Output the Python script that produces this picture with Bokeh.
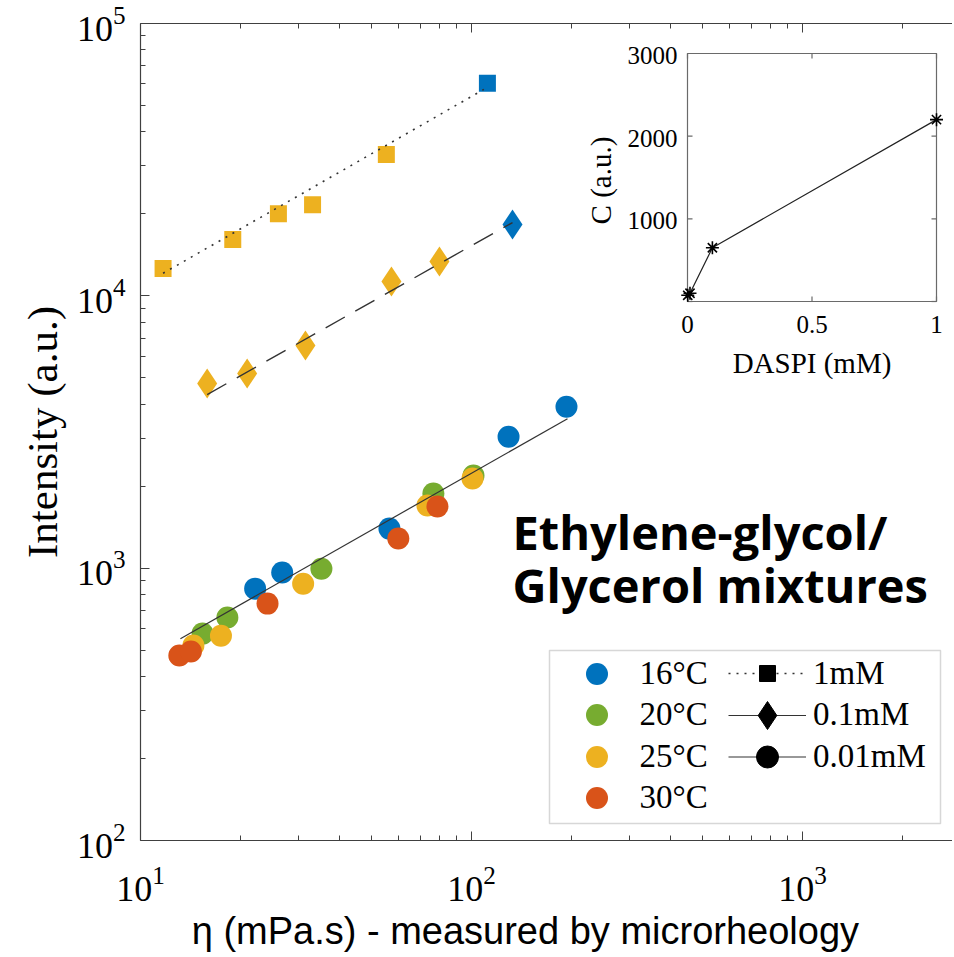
import math
from bokeh.plotting import figure
from bokeh.models import (Range1d, LinearScale, LogScale, LogAxis, FixedTicker, Legend, LegendItem,
                          BoxAnnotation, Label)
from bokeh.core.properties import value
from bokeh.embed import file_html
from bokeh.resources import INLINE

# ---------------- data ----------------
# 1 mM (squares)
sq25_x = [11.7, 19.0, 26.1, 33.1, 55.3]
sq25_y = [12600, 16100, 20000, 21600, 33000]
sq16_x = [111.7]
sq16_y = [60300]
fit_1mM_x = [11.7, 109.0]
fit_1mM_y = [12100, 57300]

# 0.1 mM (diamonds)
dia25_x = [15.9, 21.0, 31.5, 57.3, 80.0]
dia25_y = [4770, 5190, 6570, 11290, 13370]
dia16_x = [133.0]
dia16_y = [18270]
fit_01mM_x = [15.9, 133.0]
fit_01mM_y = [4340, 18580]

# 0.01 mM (circles), by temperature
c16_x = [22.2, 26.8, 56.5, 129.4, 193.6]
c16_y = [841, 964, 1397, 3039, 3917]
c20_x = [15.4, 18.3, 35.2, 76.7, 101.4]
c20_y = [575, 659, 995, 1879, 2188]
c25_x = [14.45, 17.5, 31.0, 73.6, 100.7]
c25_y = [520, 565, 877, 1698, 2134]
c30_x = [13.1, 14.2, 24.2, 60.1, 78.9]
c30_y = [478, 494, 741, 1285, 1683]
fit_001mM_x = [13.2, 195.0]
fit_001mM_y = [551, 3540]

temps = ["16°C", "20°C", "25°C", "30°C"]
temp_colors = ["#0072BD", "#77AC30", "#EDB120", "#D95319"]
concs = ["1mM", "0.1mM", "0.01mM"]

# inset: C vs DASPI concentration
inset_x = [0.001, 0.01, 0.1, 1.0]
inset_c = [75, 100, 650, 2200]
inset_xlim = [0.0, 1.0]
inset_ylim = [0.0, 3000.0]
inset_xticks = [0.0, 0.5, 1.0]
inset_xlabels = ["0", "0.5", "1"]
inset_yticks = [0.0, 1000.0, 2000.0, 3000.0]
inset_ylabel_ticks = [1000.0, 2000.0, 3000.0]
inset_ylabels = ["1000", "2000", "3000"]

x_major = [10, 100, 1000]
y_major = [100, 1000, 10000, 100000]

# ---------------- layout constants (page pixels; page margin is 0) ----------------
W, H = 952, 954
FL, FR, FT, FB = 140, 952, 23, 840      # main frame
DEC_X = 331.0
IL, IR, IT, IB = 687, 936, 53, 301      # inset frame

x_end = 10 ** (1 + (FR - FL) / DEC_X)

p = figure(width=W, height=H, x_axis_type=None, y_axis_type="log",
           x_range=Range1d(10, x_end), y_range=Range1d(100, 1e5),
           output_backend="svg", toolbar_location=None,
           min_border_left=FL, min_border_right=W - FR,
           min_border_top=FT, min_border_bottom=H - FB)
p.x_scale = LogScale()
p.outline_line_color = None
p.grid.visible = False
p.background_fill_color = "white"
p.border_fill_color = "white"

AX_COL = "#404040"
x_minor = [m * d for d in [10, 100, 1000] for m in range(2, 10)]
y_minor = [m * d for d in [100, 1000, 10000] for m in range(2, 10)]

def style_axis(ax, standoff):
    ax.axis_line_color = AX_COL
    ax.axis_line_width = 1.2
    ax.major_tick_line_color = AX_COL
    ax.minor_tick_line_color = AX_COL
    ax.major_tick_in = 9
    ax.major_tick_out = 0
    ax.minor_tick_in = 5
    ax.minor_tick_out = 0
    ax.major_label_text_font = "Liberation Serif"
    ax.major_label_text_font_size = "36px"
    ax.major_label_text_color = "black"
    ax.major_label_standoff = standoff

# y axis (left)
yax = p.yaxis[0]
yax.ticker = FixedTicker(ticks=y_major, minor_ticks=y_minor)
style_axis(yax, 15)
yax.axis_label = "Intensity (a.u.)"
yax.axis_label_text_font = "Liberation Serif"
yax.axis_label_text_font_size = "43px"
yax.axis_label_text_font_style = "normal"
yax.axis_label_text_color = "black"
yax.axis_label_standoff = 8

# x axis (below); trailing no-break spaces shift the centred label slightly left
xax = LogAxis(ticker=FixedTicker(ticks=x_major, minor_ticks=x_minor))
style_axis(xax, 26)
xax.axis_label = "η (mPa.s) - measured by microrheology" + "\u00a0" * 4
xax.axis_label_text_font = "Liberation Sans"
xax.axis_label_text_font_size = "38px"
xax.axis_label_text_font_style = "normal"
xax.axis_label_text_color = "black"
xax.axis_label_standoff = 6
p.add_layout(xax, "below")

# top box edge with ticks (labels invisible)
tax = LogAxis(ticker=FixedTicker(ticks=x_major, minor_ticks=x_minor))
style_axis(tax, 0)
tax.major_label_text_font_size = "2px"
tax.major_label_text_color = None
p.add_layout(tax, "above")

# ---------------- main data ----------------
# hidden black copies used only as legend symbols (drawn first, 1px, under the coloured marks)
k_sq = p.scatter(sq25_x, sq25_y, marker="square", size=1, fill_color="black", line_color="black")
k_di = p.scatter(dia25_x, dia25_y, marker="diamond", size=1, fill_color="black", line_color="black")
k_ci = p.scatter(c30_x, c30_y, marker="circle", size=1, fill_color="black", line_color="black")

r_c16 = p.scatter(c16_x, c16_y, size=22, fill_color=temp_colors[0], line_color=None)
r_c20 = p.scatter(c20_x, c20_y, size=22, fill_color=temp_colors[1], line_color=None)
r_c25 = p.scatter(c25_x, c25_y, size=22, fill_color=temp_colors[2], line_color=None)
r_c30 = p.scatter(c30_x, c30_y, size=22, fill_color=temp_colors[3], line_color=None)

p.scatter(sq25_x, sq25_y, marker="square", size=17, fill_color=temp_colors[2], line_color=None)
p.scatter(sq16_x, sq16_y, marker="square", size=17, fill_color=temp_colors[0], line_color=None)
p.scatter(dia25_x, dia25_y, marker="diamond", size=30, fill_color=temp_colors[2], line_color=None)
p.scatter(dia16_x, dia16_y, marker="diamond", size=30, fill_color=temp_colors[0], line_color=None)

f1 = p.line(fit_1mM_x, fit_1mM_y, line_color="#333333", line_width=1.6, line_dash="2 6")
f2 = p.line(fit_01mM_x, fit_01mM_y, line_color="#333333", line_width=1.4, line_dash="22 12")
f3 = p.line(fit_001mM_x, fit_001mM_y, line_color="#333333", line_width=1.2)

# ---------------- inset (drawn in its own ranges) ----------------
sx = (IR - IL) / (inset_xlim[1] - inset_xlim[0])
sy = (IB - IT) / (inset_ylim[1] - inset_ylim[0])
p.extra_x_ranges = {"ix": Range1d(inset_xlim[0] - (IL - FL) / sx, inset_xlim[1] + (FR - IR) / sx)}
p.extra_y_ranges = {"iy": Range1d(inset_ylim[0] - (FB - IB) / sy, inset_ylim[1] + (IT - FT) / sy)}
p.extra_x_scales = {"ix": LinearScale()}
p.extra_y_scales = {"iy": LinearScale()}
kw = dict(x_range_name="ix", y_range_name="iy")

IN_COL = "#6a6a6a"
p.quad(left=[inset_xlim[0]], right=[inset_xlim[1]], bottom=[inset_ylim[0]], top=[inset_ylim[1]],
       fill_color="white", line_color=IN_COL, line_width=1.2, **kw)
tlx = 5 / sx
tly = 5 / sy
nx = len(inset_xticks)
ny = len(inset_yticks)
p.segment(x0=inset_xticks, x1=inset_xticks, y0=[inset_ylim[0]] * nx, y1=[inset_ylim[0] + tly] * nx,
          line_color=IN_COL, line_width=1.2, **kw)
p.segment(x0=inset_xticks, x1=inset_xticks, y0=[inset_ylim[1]] * nx, y1=[inset_ylim[1] - tly] * nx,
          line_color=IN_COL, line_width=1.2, **kw)
p.segment(x0=[inset_xlim[0]] * ny, x1=[inset_xlim[0] + tlx] * ny, y0=inset_yticks, y1=inset_yticks,
          line_color=IN_COL, line_width=1.2, **kw)
p.segment(x0=[inset_xlim[1]] * ny, x1=[inset_xlim[1] - tlx] * ny, y0=inset_yticks, y1=inset_yticks,
          line_color=IN_COL, line_width=1.2, **kw)

p.line(inset_x, inset_c, line_color="#222222", line_width=1.2, **kw)
p.scatter(inset_x, inset_c, marker="asterisk", size=13, line_color="black", line_width=1.6, **kw)

serif = value("Liberation Serif")
p.text(x=inset_xticks, y=[inset_ylim[0]] * nx, text=inset_xlabels, text_align="center",
       text_baseline="top", y_offset=14, text_font=serif, text_font_size="25px",
       text_color="black", **kw)
p.text(x=[inset_xlim[0]] * len(inset_ylabel_ticks), y=inset_ylabel_ticks, text=inset_ylabels,
       text_align="right", text_baseline="middle", x_offset=-10, y_offset=2, text_font=serif,
       text_font_size="25px", text_color="black", **kw)
p.text(x=[(inset_xlim[0] + inset_xlim[1]) / 2], y=[inset_ylim[0]], text=["DASPI (mM)"],
       text_align="center", text_baseline="middle", y_offset=61, text_font=serif,
       text_font_size="29px", text_color="black", **kw)
p.text(x=[inset_xlim[0]], y=[(inset_ylim[0] + inset_ylim[1]) / 2], text=["C (a.u.)"],
       text_align="center", text_baseline="middle", x_offset=-87, y_offset=3, angle=math.pi / 2,
       text_font=serif, text_font_size="29px", text_color="black", **kw)

# ---------------- annotation text ----------------
p.add_layout(Label(x=512 - FL, y=FB - 531, x_units="screen", y_units="screen",
                   text="Ethylene-glycol/", text_font="Open Sans", text_font_style="bold",
                   text_font_size="47px", text_color="black", text_baseline="alphabetic"))
p.add_layout(Label(x=512 - FL, y=FB - 584, x_units="screen", y_units="screen",
                   text="Glycerol mixtures", text_font="Open Sans", text_font_style="bold",
                   text_font_size="47px", text_color="black", text_baseline="alphabetic"))

# ---------------- legend ----------------
p.add_layout(BoxAnnotation(left=549 - FL, right=940 - FL, bottom=FB - 823, top=FB - 650,
                           left_units="screen", right_units="screen",
                           bottom_units="screen", top_units="screen",
                           fill_color="white", fill_alpha=1.0,
                           line_color="#7a7a7a", line_width=1.5))

row_c = [673, 714.5, 756, 797]      # row centres (page px)

def add_entry(label, renderers, cx, cy, gw, gh, standoff):
    leg = Legend(items=[LegendItem(label=label, renderers=renderers)],
                 location=(cx - gw / 2 - FL, FB - (cy + gh / 2)),
                 glyph_width=gw, glyph_height=gh, label_height=gh, spacing=0, padding=0, margin=0,
                 label_standoff=standoff, border_line_color=None, background_fill_alpha=0,
                 label_text_font="Liberation Serif", label_text_font_size="33px",
                 label_text_color="black", label_text_baseline="middle")
    p.add_layout(leg)

for i, r in enumerate([r_c16, r_c20, r_c25, r_c30]):
    add_entry(temps[i], [r], 596, row_c[i], 55, 55, 16)

add_entry(concs[0], [f1, k_sq], 767, row_c[0], 78, 40, 7)
add_entry(concs[1], [f3, k_di], 767, row_c[1], 78, 70, 7)
add_entry(concs[2], [f3, k_ci], 767, row_c[2], 78, 55, 7)

open("out.html", "w").write(file_html(p, INLINE))
